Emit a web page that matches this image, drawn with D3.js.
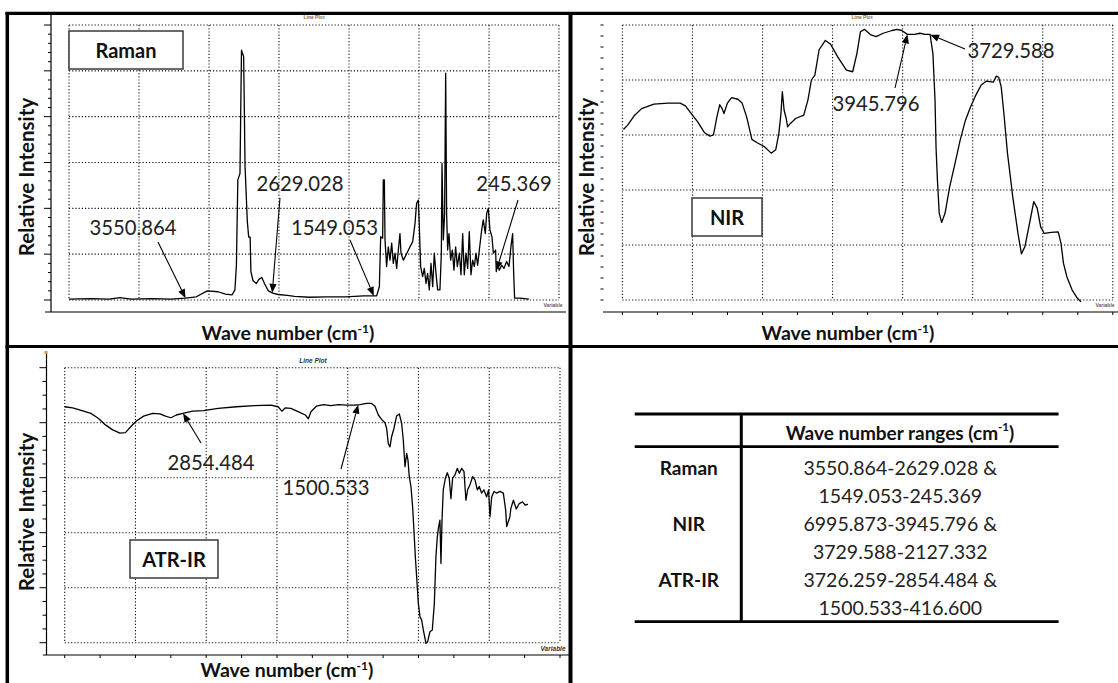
<!DOCTYPE html>
<html>
<head>
<meta charset="utf-8">
<script src="https://cdn.jsdelivr.net/npm/d3@7"></script>
<style>
  html, body { margin: 0; padding: 0; background: #fff; }
  svg { display: block; font-family: Lato, "Open Sans", sans-serif; }
</style>
</head>
<body>
<script>
// ---- Raman spectrum (wave number in cm-1, relative intensity) ----
const ramanWave = [4789, 4557, 4364, 4248, 4132, 3900, 3706, 3552, 3436, 3320,
  3204, 3126, 3057, 3026, 3010, 2995, 2972, 2956, 2933, 2918,
  2894, 2879, 2864, 2856, 2833, 2798, 2771, 2740, 2709, 2670,
  2624, 2566, 2469, 2392, 2237, 2044, 1850, 1657, 1519, 1490,
  1476, 1455, 1448, 1437, 1430, 1413, 1395, 1377, 1359, 1342,
  1324, 1306, 1288, 1271, 1260, 1235, 1207, 1164, 1136, 1111,
  1094, 1076, 1065, 1051, 1030, 1012, 994, 977, 959, 941,
  923, 906, 888, 870, 846, 831, 824, 810, 796, 785,
  775, 764, 750, 732, 714, 697, 679, 661, 640, 622,
  604, 587, 569, 551, 534, 516, 498, 480, 463, 445,
  427, 402, 385, 363, 349, 332, 314, 293, 278, 254,
  247, 236, 215, 190, 165, 137, 112, 91, 73, 62,
  52, -5, -100];
const ramanIntensity = [0.02, 0.03, 0.02, 0.05, 0.02, 0.03, 0.02, 0.04, 0.07, 0.20,
  0.18, 0.13, 0.11, 0.22, 0.76, 2.62, 2.76, 5.45, 5.31, 2.91,
  1.71, 1.37, 1.37, 0.62, 0.42, 0.36, 0.45, 0.49, 0.35, 0.20,
  0.15, 0.12, 0.10, 0.08, 0.06, 0.07, 0.07, 0.09, 0.09, 0.29,
  1.38, 1.35, 2.62, 2.62, 1.31, 0.73, 1.16, 0.87, 1.24, 0.80,
  1.02, 0.69, 1.09, 1.45, 1.02, 0.87, 0.98, 1.16, 1.27, 1.67,
  2.11, 2.18, 1.60, 0.73, 0.51, 0.69, 0.36, 0.58, 0.22, 0.80,
  0.29, 1.02, 0.58, 0.22, 0.22, 1.02, 2.98, 1.31, 1.89, 4.95,
  1.89, 1.09, 1.45, 0.87, 1.09, 0.65, 1.16, 0.73, 1.02, 0.55,
  1.45, 0.55, 1.02, 0.69, 1.49, 0.55, 0.87, 0.73, 1.02, 0.76,
  1.09, 1.53, 1.75, 1.45, 1.89, 2.00, 1.53, 1.38, 1.02, 1.09,
  0.62, 0.80, 0.65, 0.76, 0.69, 0.84, 0.73, 1.16, 1.45, 0.58,
  0.04, 0.04, 0.02];
const ramanMarks = [3550.864, 2629.028, 1549.053, 245.369];

// ---- NIR spectrum ----
const nirWave = [6650, 6610, 6543, 6477, 6360, 6227, 6110, 6060, 5993, 5943,
  5877, 5827, 5793, 5760, 5733, 5710, 5693, 5660, 5620, 5560,
  5520, 5477, 5427, 5377, 5310, 5243, 5200, 5170, 5150, 5137,
  5120, 5100, 5087, 5060, 5010, 4933, 4893, 4860, 4827, 4787,
  4727, 4677, 4610, 4527, 4467, 4427, 4393, 4353, 4293, 4243,
  4177, 4093, 4043, 4000, 3946, 3877, 3827, 3777, 3730, 3703,
  3683, 3673, 3660, 3643, 3620, 3587, 3543, 3493, 3443, 3393,
  3343, 3293, 3243, 3193, 3127, 3100, 3077, 3053, 3027, 2993,
  2943, 2893, 2860, 2827, 2777, 2743, 2710, 2677, 2643, 2577,
  2510, 2483, 2460, 2427, 2377, 2327, 2293];
const nirIntensity = [3.10, 3.18, 3.36, 3.48, 3.56, 3.58, 3.58, 3.53, 3.36, 3.24,
  3.04, 2.98, 3.00, 3.33, 3.55, 3.48, 3.39, 3.58, 3.68, 3.65,
  3.58, 3.33, 2.92, 2.86, 2.79, 2.67, 2.73, 3.03, 3.39, 3.79,
  3.45, 3.30, 3.15, 3.21, 3.30, 3.36, 3.64, 4.00, 4.09, 4.55,
  4.72, 4.65, 4.42, 4.18, 4.15, 4.48, 4.88, 4.92, 4.82, 4.79,
  4.85, 4.90, 4.92, 4.90, 4.83, 4.83, 4.85, 4.83, 4.83, 4.48,
  3.64, 2.76, 2.18, 1.58, 1.41, 1.58, 2.06, 2.48, 2.91, 3.27,
  3.52, 3.73, 3.91, 3.98, 3.96, 4.07, 4.05, 3.88, 3.39, 2.67,
  1.88, 1.21, 0.84, 0.97, 1.45, 1.79, 1.67, 1.33, 1.21, 1.23,
  1.24, 1.03, 0.67, 0.42, 0.18, 0.03, -0.03];
const nirMarks = [3945.796, 3729.588];

// ---- ATR-IR spectrum ----
const atrWave = [3769, 3707, 3623, 3567, 3510, 3454, 3398, 3342, 3300, 3257,
  3215, 3159, 3089, 3033, 2990, 2948, 2906, 2856, 2780, 2695,
  2583, 2442, 2302, 2176, 2119, 2091, 2063, 2021, 1965, 1909,
  1886, 1866, 1824, 1768, 1712, 1656, 1590, 1526, 1487, 1435,
  1397, 1371, 1345, 1320, 1294, 1281, 1268, 1255, 1242, 1224,
  1204, 1183, 1165, 1152, 1139, 1126, 1116, 1106, 1093, 1080,
  1070, 1059, 1049, 1036, 1023, 1010, 997, 977, 964, 946,
  928, 912, 900, 889, 879, 869, 861, 853, 843, 827,
  812, 797, 784, 771, 753, 735, 719, 701, 683, 668,
  655, 637, 616, 598, 580, 565, 547, 529, 508, 493,
  482, 469, 451, 431, 405, 379, 361, 353, 341, 328,
  321, 301, 279, 256, 231, 208, 189];
const atrIntensity = [4.29, 4.27, 4.21, 4.17, 4.08, 3.96, 3.87, 3.81, 3.82, 3.93,
  4.03, 4.12, 4.17, 4.16, 4.12, 4.09, 4.14, 4.17, 4.21, 4.22,
  4.26, 4.29, 4.31, 4.32, 4.29, 4.21, 4.27, 4.26, 4.20, 4.14,
  4.07, 4.20, 4.30, 4.33, 4.31, 4.33, 4.32, 4.32, 4.33, 4.35,
  4.35, 4.30, 4.14, 4.06, 4.00, 3.90, 3.62, 3.56, 3.75, 3.90,
  4.12, 4.16, 3.99, 3.68, 3.20, 3.44, 3.32, 3.02, 2.84, 2.47,
  2.05, 1.56, 1.20, 0.72, 0.47, 0.41, 0.23, -0.01, 0.02, 0.20,
  0.23, 0.72, 1.56, 1.93, 2.11, 2.23, 1.44, 2.23, 2.78, 2.99,
  3.09, 2.99, 2.62, 2.99, 3.05, 3.17, 3.08, 3.17, 3.11, 2.59,
  2.78, 2.87, 3.02, 2.96, 2.78, 2.84, 2.72, 2.78, 2.65, 2.78,
  2.29, 2.65, 2.75, 2.72, 2.75, 2.72, 2.41, 2.11, 2.20, 2.29,
  2.44, 2.59, 2.43, 2.53, 2.56, 2.50, 2.52];
const atrMarks = [2854.484, 1500.533];

// ---- summary table ----
const tableHeader = "Wave number ranges (cm";
const tableMethods = ["Raman", "NIR", "ATR-IR"];
const tableRanges = [
  ["3550.864-2629.028 &", "1549.053-245.369"],
  ["6995.873-3945.796 &", "3729.588-2127.332"],
  ["3726.259-2854.484 &", "1500.533-416.600"]
];

const W = 1118, H = 683;
const svg = d3.select("body").append("svg").attr("width", W).attr("height", H);

const panels = [
  {
    name: "Raman", wave: ramanWave, inten: ramanIntensity, marks: ramanMarks,
    plot: { l: 69, r: 559, t: 25, b: 300 }, xDomain: [4790, -420], yMax: 6, xDiv: 7,
    yAxis: { x: 51, top: 15, bottom: 312, line: true, sub: 5, major: 7, minor: 3 },
    xAxis: { y: 312, from: 45, to: 566, ticks: false },
    caption: { x: 314, y: 19, size: 5, fill: "#8a6a3a", style: "normal" },
    varLabel: { x: 553, y: 307, size: 5, fill: "#6a5a5a", style: "normal" },
    box: { x: 69, y: 31, w: 114, h: 38 },
    yTitle: { x: 26, y: 177 }, xTitle: { x: 288, y: 340 },
    callouts: [[133, 227, 158, 242], [300, 183, 280, 198], [334.5, 227, 350, 240], [514, 183, 518, 200]]
  },
  {
    name: "NIR", wave: nirWave, inten: nirIntensity, marks: nirMarks,
    plot: { l: 622.4, r: 1112.8, t: 25, b: 300 }, xDomain: [6660, 1990], yMax: 5, xDiv: 7,
    yAxis: { x: 603.5, top: 15, bottom: 312, line: false, sub: 5, major: 3, minor: 3 },
    xAxis: { y: 312, from: 603, to: 1118, ticks: true },
    caption: { x: 862, y: 19, size: 5, fill: "#8a6a3a", style: "normal" },
    varLabel: { x: 1105, y: 307, size: 5, fill: "#6a5a5a", style: "normal" },
    box: { x: 692, y: 198, w: 70, h: 38 },
    yTitle: { x: 586, y: 177 }, xTitle: { x: 848, y: 340 },
    callouts: [[876, 103, 895, 88], [1011, 50, 965, 49]]
  },
  {
    name: "ATR-IR", wave: atrWave, inten: atrIntensity, marks: atrMarks,
    plot: { l: 64.7, r: 560, t: 367.7, b: 642.7 }, xDomain: [3769, -59], yMax: 5, xDiv: 7,
    yAxis: { x: 46.5, top: 352, bottom: 655, line: true, sub: 4, major: 7, minor: 4 },
    xAxis: { y: 655, from: 43, to: 570, ticks: true },
    caption: { x: 313, y: 363, size: 6.5, fill: "#333", style: "italic" },
    varLabel: { x: 553, y: 651, size: 6.5, fill: "#333", style: "italic" },
    box: { x: 130, y: 540, w: 88, h: 38 },
    yTitle: { x: 25.5, y: 512 }, xTitle: { x: 287, y: 677 },
    callouts: [[211, 462, 201, 443], [326, 487, 341, 469]]
  }
];

function drawPanel(p) {
  const g = svg.append("g");
  const x = d3.scaleLinear().domain(p.xDomain).range([p.plot.l, p.plot.r]);
  const y = d3.scaleLinear().domain([0, p.yMax]).range([p.plot.b, p.plot.t]);
  const pts = d3.zip(p.wave, p.inten);

  // dotted grid
  const xGrid = d3.range(p.xDiv + 1).map(i => p.xDomain[0] + i * (p.xDomain[1] - p.xDomain[0]) / p.xDiv);
  const yGrid = d3.range(p.yMax + 1);
  g.selectAll(null).data(xGrid).join("line")
    .attr("x1", d => x(d)).attr("x2", d => x(d))
    .attr("y1", p.plot.t).attr("y2", p.plot.b)
    .attr("stroke", "#111").attr("stroke-width", 1.1).attr("stroke-dasharray", "1.2,2");
  g.selectAll(null).data(yGrid).join("line")
    .attr("x1", p.plot.l).attr("x2", p.plot.r)
    .attr("y1", d => y(d)).attr("y2", d => y(d))
    .attr("stroke", "#111").attr("stroke-width", 1.1).attr("stroke-dasharray", "1.2,2");

  // y axis with major and minor ticks
  const ya = p.yAxis;
  if (ya.line) {
    g.append("line").attr("x1", ya.x).attr("x2", ya.x).attr("y1", ya.top).attr("y2", ya.bottom)
      .attr("stroke", "#000").attr("stroke-width", 1.2);
  }
  const minorVals = [];
  for (let i = 0; i < p.yMax; i++) for (let k = 1; k < ya.sub; k++) minorVals.push(i + k / ya.sub);
  g.selectAll(null).data(yGrid).join("line")
    .attr("x1", ya.x - ya.major).attr("x2", ya.x)
    .attr("y1", d => y(d)).attr("y2", d => y(d))
    .attr("stroke", "#000").attr("stroke-width", 1);
  g.selectAll(null).data(minorVals).join("line")
    .attr("x1", ya.x - ya.minor).attr("x2", ya.x)
    .attr("y1", d => y(d)).attr("y2", d => y(d))
    .attr("stroke", "#000").attr("stroke-width", 1);

  // x axis
  const xa = p.xAxis;
  g.append("line").attr("x1", xa.from).attr("x2", xa.to).attr("y1", xa.y).attr("y2", xa.y)
    .attr("stroke", "#000").attr("stroke-width", 1.2);
  if (xa.ticks) {
    const xt = d3.range(p.xDiv * 2 + 1).map(i => p.xDomain[0] + i * (p.xDomain[1] - p.xDomain[0]) / (p.xDiv * 2));
    g.selectAll(null).data(xt).join("line")
      .attr("x1", d => x(d)).attr("x2", d => x(d))
      .attr("y1", xa.y).attr("y2", xa.y + 3)
      .attr("stroke", "#000").attr("stroke-width", 1);
  }

  // spectrum
  g.append("path").datum(pts)
    .attr("fill", "none").attr("stroke", "#000").attr("stroke-width", 1.3)
    .attr("stroke-linejoin", "round")
    .attr("d", d3.line().x(d => x(d[0])).y(d => y(d[1])));

  // tiny plot captions
  g.append("text").attr("x", p.caption.x).attr("y", p.caption.y)
    .attr("text-anchor", "middle").attr("font-size", p.caption.size)
    .attr("font-weight", "bold").attr("font-style", p.caption.style)
    .attr("font-family", "Liberation Sans, Arial, sans-serif")
    .attr("fill", p.caption.fill).text("Line Plot");
  g.append("text").attr("x", p.varLabel.x).attr("y", p.varLabel.y)
    .attr("text-anchor", "middle").attr("font-size", p.varLabel.size)
    .attr("font-weight", "bold").attr("font-style", p.varLabel.style)
    .attr("font-family", "Liberation Sans, Arial, sans-serif")
    .attr("fill", p.varLabel.fill).text("Variable");

  // technique label box
  g.append("rect").attr("x", p.box.x).attr("y", p.box.y).attr("width", p.box.w).attr("height", p.box.h)
    .attr("fill", "#fff").attr("stroke", "#3a3a3a").attr("stroke-width", 1.5);
  g.append("text").attr("x", p.box.x + p.box.w / 2).attr("y", p.box.y + p.box.h / 2)
    .attr("text-anchor", "middle").attr("dominant-baseline", "central")
    .attr("font-size", 20).attr("font-weight", "bold").attr("fill", "#111").text(p.name);

  // axis titles
  g.append("text").attr("transform", `translate(${p.yTitle.x},${p.yTitle.y}) rotate(-90)`)
    .attr("text-anchor", "middle").attr("dominant-baseline", "central")
    .attr("font-size", 20.5).attr("font-weight", "bold").attr("fill", "#111").text("Relative Intensity");
  const xt = g.append("text").attr("x", p.xTitle.x).attr("y", p.xTitle.y)
    .attr("text-anchor", "middle").attr("font-size", 19.5).attr("font-weight", "bold").attr("fill", "#111");
  xt.append("tspan").text("Wave number (cm");
  xt.append("tspan").attr("font-size", 12).attr("dy", -7).text("-1");
  xt.append("tspan").attr("dy", 7).text(")");

  // annotated wave numbers with arrows pointing at the spectrum
  const level = v => {
    const i = pts.findIndex(d => d[0] <= v);
    const a = pts[i - 1], b = pts[i];
    return a[1] + (b[1] - a[1]) * (a[0] - v) / (a[0] - b[0]);
  };
  p.marks.forEach((v, i) => {
    const [lx, ly, tx, ty] = p.callouts[i];
    const hx = x(v), hy = y(level(v));
    const ang = Math.atan2(hy - ty, hx - tx);
    const len = 9, hw = 3.6;
    const bx = hx - len * Math.cos(ang), by = hy - len * Math.sin(ang);
    g.append("line").attr("x1", tx).attr("y1", ty).attr("x2", bx).attr("y2", by)
      .attr("stroke", "#000").attr("stroke-width", 1.1);
    g.append("path")
      .attr("d", `M${hx},${hy}L${bx + hw * Math.sin(ang)},${by - hw * Math.cos(ang)}L${bx - hw * Math.sin(ang)},${by + hw * Math.cos(ang)}Z`)
      .attr("fill", "#000");
    g.append("text").attr("x", lx).attr("y", ly)
      .attr("text-anchor", "middle").attr("dominant-baseline", "central")
      .attr("font-size", 20.3).attr("fill", "#222").text(v.toFixed(3));
  });
}
panels.forEach(drawPanel);

// small orange scale marker above the ATR-IR intensity axis
svg.append("rect").attr("x", 44.5).attr("y", 351).attr("width", 3).attr("height", 3).attr("fill", "#e39a3a");

// summary table
const tg = svg.append("g");
const tl = 634.7, tr = 1058.6, tSplit = 741.3;
[414, 446.7, 621.7].forEach(yy => tg.append("line").attr("x1", tl).attr("x2", tr)
  .attr("y1", yy).attr("y2", yy).attr("stroke", "#000").attr("stroke-width", 2.8));
tg.append("line").attr("x1", tSplit).attr("x2", tSplit).attr("y1", 413).attr("y2", 623)
  .attr("stroke", "#000").attr("stroke-width", 3);
const ht = tg.append("text").attr("x", 900).attr("y", 440).attr("text-anchor", "middle")
  .attr("font-size", 19).attr("font-weight", "bold").attr("fill", "#111");
ht.append("tspan").text(tableHeader);
ht.append("tspan").attr("font-size", 11.5).attr("dy", -9).text("-1");
ht.append("tspan").attr("dy", 9).text(")");
const rowY = d3.scaleLinear().domain([0, 1]).range([467.7, 523.6]);
tableMethods.forEach((m, i) => {
  tg.append("text").attr("x", 688.8).attr("y", rowY(i)).attr("text-anchor", "middle")
    .attr("dominant-baseline", "central").attr("font-size", 19).attr("font-weight", "bold")
    .attr("fill", "#111").text(m);
  tableRanges[i].forEach((s, j) => {
    tg.append("text").attr("x", 900.3).attr("y", rowY(i) + j * 27.5).attr("text-anchor", "middle")
      .attr("dominant-baseline", "central").attr("font-size", 19.5).attr("fill", "#222").text(s);
  });
});

// panel frame
const frame = svg.append("g").attr("stroke", "#000");
frame.append("line").attr("x1", 5.5).attr("x2", W).attr("y1", 13.3).attr("y2", 13.3).attr("stroke-width", 3.3);
frame.append("line").attr("x1", 7.3).attr("x2", 7.3).attr("y1", 12).attr("y2", H).attr("stroke-width", 3.5);
frame.append("line").attr("x1", 570.5).attr("x2", 570.5).attr("y1", 12).attr("y2", H).attr("stroke-width", 4);
frame.append("line").attr("x1", 5.5).attr("x2", W).attr("y1", 346.5).attr("y2", 346.5).attr("stroke-width", 3);
</script>
</body>
</html>
